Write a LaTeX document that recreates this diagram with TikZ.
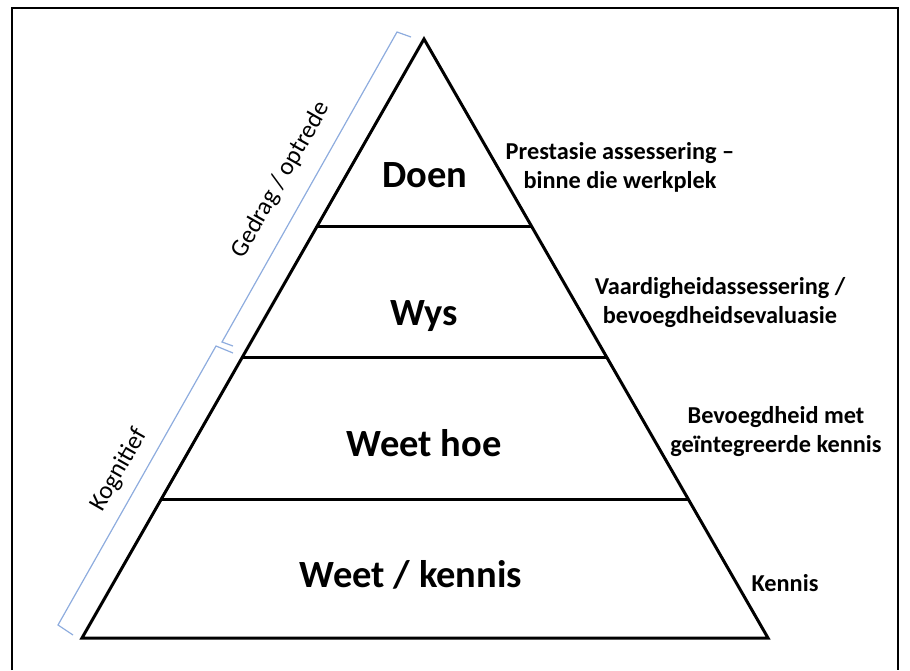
\documentclass[tikz,border=0pt]{standalone}
\usepackage{fontspec}
\setmainfont{Carlito}
\usetikzlibrary{calc}
\begin{document}
\begin{tikzpicture}[x=1pt,y=-1pt,
  edge/.style={line width=3pt, line join=miter},
  tierline/.style={line width=3pt},
  frameline/.style={line width=2.5pt},
  tier/.style={font=\fontsize{38.5}{46}\selectfont\bfseries, anchor=base, inner sep=0pt},
  note/.style={font=\fontsize{24.3}{29}\selectfont\bfseries, align=center, inner sep=0pt},
  side/.style={font=\fontsize{25}{30}\selectfont, rotate=60.35, inner sep=0pt},
  brace/.style={draw={rgb,255:red,142;green,172;blue,222}, line width=1.2pt, line join=miter}]
\useasboundingbox (0,0) rectangle (910,670);

% outer frame
\draw[frameline] (12,670) -- (12,8) -- (898,8) -- (898,670);

% pyramid outline
\coordinate (apex) at (424,39);
\coordinate (bl) at (82,638);
\coordinate (br) at (768,638);
\draw[edge] (apex) -- (bl) -- (br) -- cycle;

% tier separators
\foreach \t/\n in {0.3128/a, 0.5325/b, 0.7688/c}{
  \coordinate (l\n) at ($(apex)!\t!(bl)$);
  \coordinate (r\n) at ($(apex)!\t!(br)$);
}
\draw[tierline] (la) -- (ra);
\draw[tierline] (lb) -- (rb);
\draw[tierline] (lc) -- (rc);

% tier names
\node[tier] (doen) at (425,187) {Doen};
\node[tier] (wys) at (424,325) {Wys};
\node[tier] (weethoe) at (424,456) {Weet hoe};
\node[tier] (weet) at (411,587) {Weet / kennis};

% assessment notes
\node[note] (n1) at (620,167) {Prestasie assessering –\\binne die werkplek};
\node[note] (n2) at (720,303) {Vaardigheidassessering /\\bevoegdheidsevaluasie};
\node[note] (n3) at (776,432) {Bevoegdheid met\\geïntegreerde kennis};
\node[note, anchor=base] (n4) at (785,591) {Kennis};

% side brackets
\coordinate (ga) at (411,37);
\coordinate (gb) at (397,32);
\coordinate (gc) at (222,342);
\coordinate (gd) at (233,346);
\draw[brace] (ga) -- (gb) -- (gc) -- (gd);
\coordinate (ka) at (233,353);
\coordinate (kb) at (216,346);
\coordinate (kc) at (58,625);
\coordinate (kd) at (73,635);
\draw[brace] (ka) -- (kb) -- (kc) -- (kd);

\node[side] (gedrag) at (281,180) {Gedrag / optrede};
\node[side] (kognitief) at (119,470) {Kognitief};
\end{tikzpicture}
\end{document}
